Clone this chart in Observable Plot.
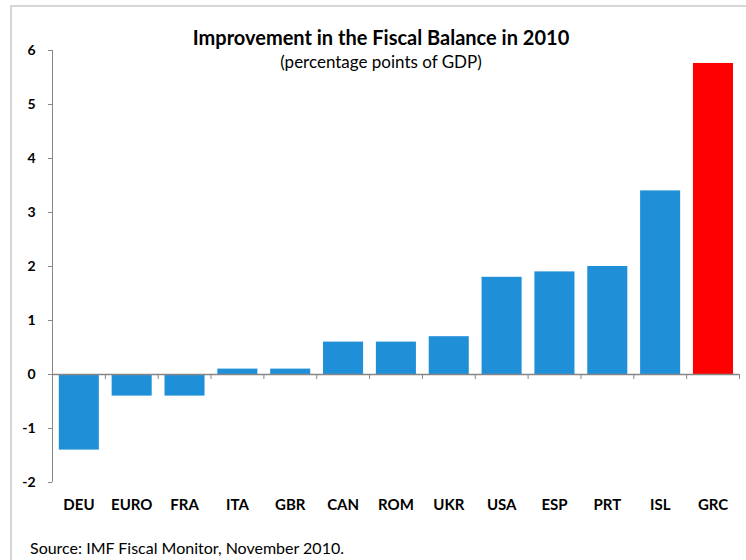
<!DOCTYPE html>
<html>
<head>
<meta charset="utf-8">
<script src="https://cdn.jsdelivr.net/npm/d3@7"></script>
<script src="https://cdn.jsdelivr.net/npm/@observablehq/plot@0.6"></script>
<style>
  body { margin: 0; background: #fff; }
  #wrap { position: relative; width: 746px; height: 560px; overflow: hidden; font-family: Lato, "Open Sans", sans-serif; }
  #frame { position: absolute; left: 10px; top: 5px; width: 800px; height: 600px; border-left: 2px solid #d6d6d6; border-top: 2px solid #d6d6d6; }
  #chart { position: absolute; left: 0; top: 0; }
  .title { position: absolute; left: 381px; transform: translateX(-50%); white-space: nowrap; color: #000; }
  #t1 { top: 25px; font-size: 20px; font-weight: bold; }
  #t2 { top: 51px; font-size: 17px; }
  #src { position: absolute; left: 30px; top: 538px; font-size: 16px; color: #000; white-space: nowrap; }
</style>
</head>
<body>
<div id="wrap">
  <div id="frame"></div>
  <div id="chart"></div>
  <div class="title" id="t1">Improvement in the Fiscal Balance in 2010</div>
  <div class="title" id="t2">(percentage points of GDP)</div>
  <div id="src">Source: IMF Fiscal Monitor, November 2010.</div>
</div>
<script>
const countries = ["DEU", "EURO", "FRA", "ITA", "GBR", "CAN", "ROM", "UKR", "USA", "ESP", "PRT", "ISL", "GRC"];
const values = [-1.4, -0.4, -0.4, 0.1, 0.1, 0.6, 0.6, 0.7, 1.8, 1.9, 2.0, 3.4, 5.76];
const highlight = ["GRC"];
const yTicks = [-2, -1, 0, 1, 2, 3, 4, 5, 6];

const data = countries.map((c, i) => ({country: c, value: values[i], i0: i, i1: i + 1}));
const boundaries = d3.range(1, countries.length + 1);

const gray = "#868686";
const chart = Plot.plot({
  width: 746,
  height: 520,
  marginLeft: 52,
  marginRight: 7,
  marginTop: 50,
  marginBottom: 38,
  style: {fontFamily: "Lato, 'Open Sans', sans-serif", background: "transparent"},
  x: {domain: [0, countries.length], axis: null},
  y: {domain: [-2, 6], axis: null},
  marks: [
    Plot.rectY(data, {
      x1: "i0", x2: "i1", y: "value",
      fill: d => highlight.includes(d.country) ? "#ff0000" : "#1f8fd8",
      insetLeft: 6.8, insetRight: 6
    }),
    Plot.ruleX([0], {y1: -2, y2: 6, stroke: gray}),
    Plot.axisY({
      ticks: yTicks, tickSize: 4, tickPadding: 13, stroke: gray, label: null,
      fontSize: 14, fontWeight: "bold", fill: "#000", tickFormat: d => String(d).replace("−", "-")
    }),
    Plot.ruleY([0], {x1: 0, x2: countries.length, stroke: gray, strokeWidth: 1.5}),
    Plot.ruleX(boundaries, {x: d => d, y1: 0, y2: 0, insetBottom: -5, stroke: gray}),
    Plot.text(data, {
      x: d => d.i0 + 0.5, y: -2, dy: 23, text: "country",
      fontSize: 15, fontWeight: "bold", fill: "#000"
    })
  ]
});
document.getElementById("chart").appendChild(chart);
</script>
</body>
</html>
